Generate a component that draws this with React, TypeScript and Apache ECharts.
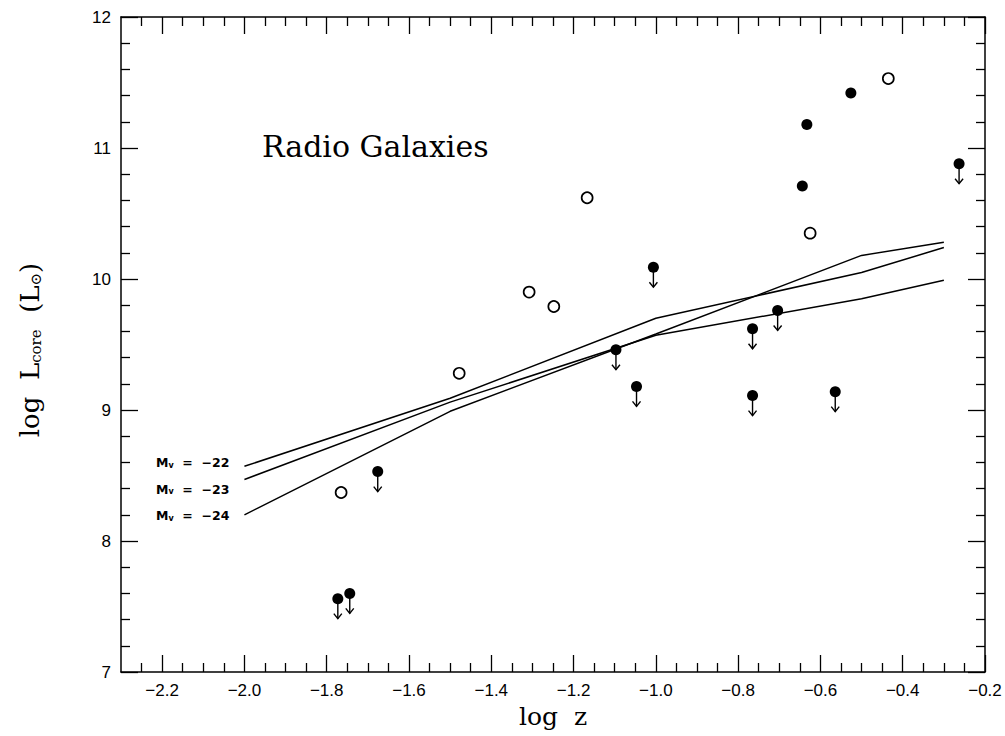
import React, { useEffect, useRef } from "react";
import * as echarts from "echarts";

// Axis tick positions (log z)
const xMajorTicks = [-2.2, -2.0, -1.8, -1.6, -1.4, -1.2, -1.0, -0.8, -0.6, -0.4, -0.2];
const xMinorTicks: number[] = [];
for (let i = -46; i <= -4; i++) {
  if (i % 4 !== 0) xMinorTicks.push(i * 0.05);
}

// Detections: open circles
const openPoints: [number, number][] = [
  [-1.765, 8.37],
  [-1.478, 9.28],
  [-1.308, 9.9],
  [-1.248, 9.79],
  [-1.167, 10.62],
  [-0.625, 10.35],
  [-0.435, 11.53],
];

// Detections: filled circles
const filledPoints: [number, number][] = [
  [-0.633, 11.18],
  [-0.644, 10.71],
  [-0.526, 11.42],
];

// Upper limits: filled circles with downward arrows
const limitPoints: [number, number][] = [
  [-0.263, 10.88],
  [-1.006, 10.09],
  [-1.097, 9.46],
  [-1.047, 9.18],
  [-0.765, 9.62],
  [-0.704, 9.76],
  [-0.765, 9.11],
  [-0.564, 9.14],
  [-1.676, 8.53],
  [-1.773, 7.56],
  [-1.744, 7.6],
];

// Model tracks for three absolute magnitudes
const modelX = [-2.0, -1.5, -1.0, -0.5, -0.3];
const mv22 = [8.57, 9.09, 9.7, 10.05, 10.24];
const mv23 = [8.47, 9.06, 9.57, 9.85, 9.99];
const mv24 = [8.2, 8.99, 9.58, 10.18, 10.28];
const modelNames = ["−22", "−23", "−24"];

const INK = "#000";
const tickFont = "Liberation Sans";
const serif = "DejaVu Serif";

function track(ys: number[]) {
  return modelX.map((x, i) => [x, ys[i]]);
}

export default function App() {
  const ref = useRef<HTMLDivElement>(null);

  useEffect(() => {
    if (!ref.current) return;
    const chart = echarts.init(ref.current, null, { renderer: "svg" });

    const fmtX = (v: number) => (v < 0 ? "−" : "") + Math.abs(v).toFixed(1);

    const xCommon = {
      type: "value" as const,
      min: -2.3,
      max: -0.2,
      splitLine: { show: false },
    };
    const yCommon = {
      type: "value" as const,
      min: 7,
      max: 12,
      interval: 1,
      splitLine: { show: false },
      axisLine: { show: true, lineStyle: { color: INK, width: 1.5 } },
      axisTick: { show: true, inside: true, length: 17, lineStyle: { color: INK, width: 1.3 } },
      minorTick: { show: true, splitNumber: 5, length: 9, lineStyle: { color: INK, width: 1.3 } },
    };

    const majorTick = {
      show: true,
      inside: true,
      length: 17,
      customValues: xMajorTicks,
      lineStyle: { color: INK, width: 1.3 },
    };
    const minorTick = {
      show: true,
      inside: true,
      length: 9,
      customValues: xMinorTicks,
      lineStyle: { color: INK, width: 1.3 },
    };

    const lineSeries = [mv22, mv23, mv24].map((ys, i) => ({
      type: "line" as const,
      name: "Mv = " + modelNames[i],
      data: track(ys),
      xAxisIndex: 0,
      yAxisIndex: 0,
      symbol: "none",
      lineStyle: { color: INK, width: 1.5 },
      z: 2,
    }));

    chart.setOption({
      animation: false,
      backgroundColor: "#fff",
      grid: { left: 121, right: 20, top: 17, bottom: 64, containLabel: false },
      xAxis: [
        {
          ...xCommon,
          position: "bottom",
          axisLine: { show: true, onZero: false, lineStyle: { color: INK, width: 1.5 } },
          axisTick: majorTick,
          axisLabel: {
            show: true,
            customValues: xMajorTicks,
            formatter: fmtX,
            margin: 10,
            color: INK,
            fontFamily: tickFont,
            fontSize: 17,
          },
          name: "log  z",
          nameLocation: "middle",
          nameGap: 26,
          nameTextStyle: { fontFamily: serif, fontSize: 25, color: INK },
        },
        {
          ...xCommon,
          position: "bottom",
          axisLine: { show: false, onZero: false },
          axisTick: minorTick,
          axisLabel: { show: false },
        },
        {
          ...xCommon,
          position: "top",
          axisLine: { show: true, onZero: false, lineStyle: { color: INK, width: 1.5 } },
          axisTick: majorTick,
          axisLabel: { show: false },
        },
        {
          ...xCommon,
          position: "top",
          axisLine: { show: false, onZero: false },
          axisTick: minorTick,
          axisLabel: { show: false },
        },
      ],
      yAxis: [
        {
          ...yCommon,
          position: "left",
          axisLabel: {
            show: true,
            margin: 10,
            color: INK,
            fontFamily: tickFont,
            fontSize: 17,
          },
        },
        {
          ...yCommon,
          position: "right",
          axisLabel: { show: false },
        },
      ],
      graphic: [
        {
          type: "text",
          left: 262,
          top: 131,
          style: {
            text: "Radio Galaxies",
            fontFamily: serif,
            fontSize: 30,
            fill: INK,
          },
        },
        {
          type: "text",
          x: 27,
          y: 350,
          rotation: Math.PI / 2,
          style: {
            text: "{m|log  L}{s|core}{m|  (L}{s|⊙}{m|)}",
            align: "center",
            verticalAlign: "middle",
            fill: INK,
            rich: {
              m: { fontFamily: serif, fontSize: 26, fill: INK, verticalAlign: "bottom", lineHeight: 32 },
              s: { fontFamily: serif, fontSize: 15, fill: INK, verticalAlign: "bottom", lineHeight: 25 },
            },
          },
        },
        ...modelNames.map((nm, i) => ({
          type: "text",
          x: 156,
          y: [461, 487.5, 514][i],
          style: {
            text: "{m|M}{s|v}{m|  =  " + nm + "}",
            verticalAlign: "middle",
            fill: INK,
            rich: {
              m: { fontFamily: "DejaVu Sans", fontWeight: "bold", fontSize: 12.5, fill: INK, verticalAlign: "bottom", lineHeight: 16 },
              s: { fontFamily: "DejaVu Sans", fontWeight: "bold", fontSize: 8, fill: INK, verticalAlign: "bottom", lineHeight: 12 },
            },
          },
        })),
      ],
      series: [
        ...lineSeries,
        {
          type: "scatter",
          name: "open",
          data: openPoints,
          xAxisIndex: 0,
          yAxisIndex: 0,
          symbol: "circle",
          symbolSize: 11,
          itemStyle: { color: "#fff", borderColor: INK, borderWidth: 1.7, opacity: 1 },
          z: 5,
        },
        {
          type: "scatter",
          name: "filled",
          data: filledPoints,
          xAxisIndex: 0,
          yAxisIndex: 0,
          symbol: "circle",
          symbolSize: 11,
          itemStyle: { color: INK, opacity: 1 },
          z: 5,
        },
        {
          type: "custom",
          name: "limits",
          data: limitPoints,
          xAxisIndex: 0,
          yAxisIndex: 0,
          z: 5,
          renderItem: (_params: any, api: any) => {
            const p = api.coord([api.value(0), api.value(1)]);
            const x = p[0];
            const y = p[1];
            return {
              type: "group",
              children: [
                {
                  type: "line",
                  shape: { x1: x, y1: y, x2: x, y2: y + 20 },
                  style: { stroke: INK, lineWidth: 1.4 },
                },
                {
                  type: "polyline",
                  shape: { points: [[x - 4, y + 15], [x, y + 20], [x + 4, y + 15]] },
                  style: { stroke: INK, fill: "none", lineWidth: 1.4 },
                },
                {
                  type: "circle",
                  shape: { cx: x, cy: y, r: 5.5 },
                  style: { fill: INK },
                },
              ],
            };
          },
        },
      ],
    });

    return () => chart.dispose();
  }, []);

  return (
    <div
      ref={ref}
      style={{ position: "fixed", left: 0, top: 0, width: 1005, height: 736, background: "#fff" }}
    />
  );
}
